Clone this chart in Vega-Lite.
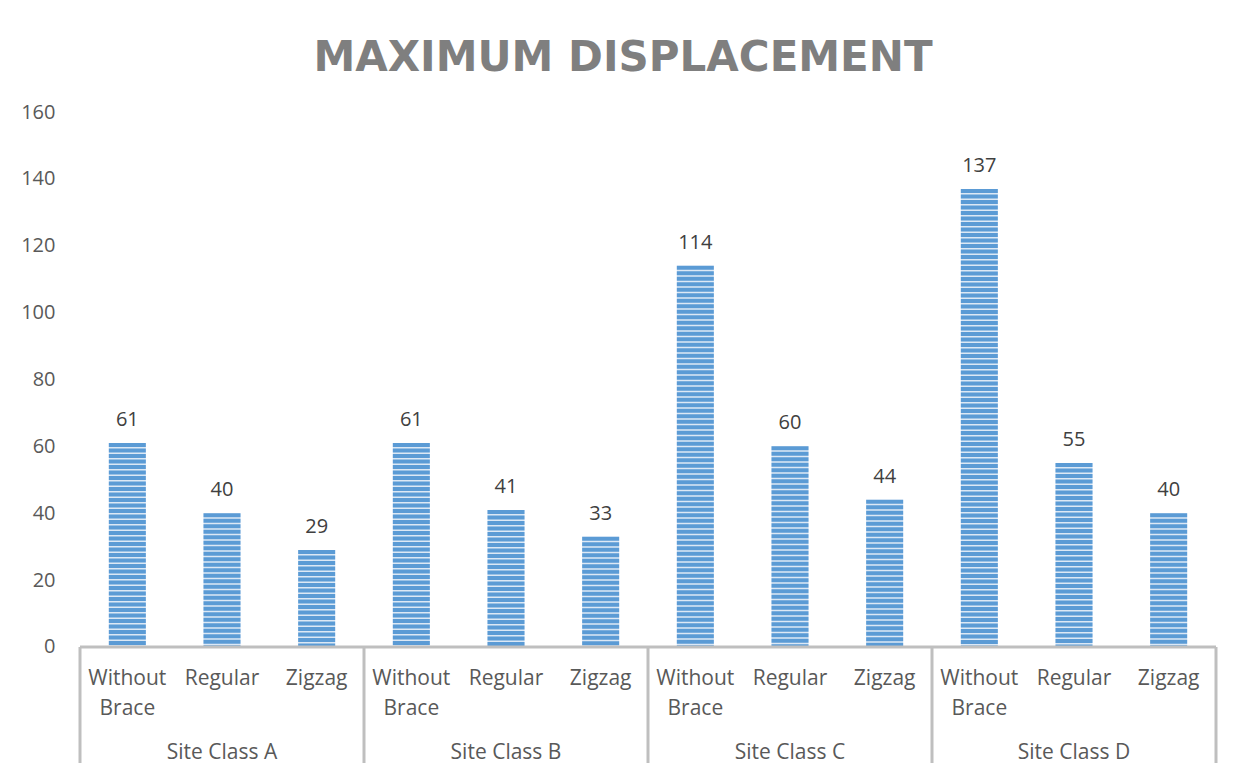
{
  "$schema": "https://vega.github.io/schema/vega-lite/v6.json",
  "autosize": "none",
  "width": 1136,
  "height": 652,
  "padding": {"left": 80, "top": 112, "right": 23, "bottom": 0},
  "background": "white",
  "config": {"view": {"stroke": null}},
  "title": {
    "text": "MAXIMUM DISPLACEMENT",
    "font": "DejaVu Sans",
    "fontSize": 42,
    "fontWeight": "bold",
    "color": "#7F7F7F",
    "anchor": "middle",
    "frame": "group",
    "baseline": "alphabetic",
    "offset": -11,
    "dx": -25
  },
  "datasets": {
    "bars": [
      {"key": "A|Without Brace", "label": ["Without", "Brace"], "value": 61},
      {"key": "A|Regular", "label": ["Regular"], "value": 40},
      {"key": "A|Zigzag", "label": ["Zigzag"], "value": 29},
      {"key": "B|Without Brace", "label": ["Without", "Brace"], "value": 61},
      {"key": "B|Regular", "label": ["Regular"], "value": 41},
      {"key": "B|Zigzag", "label": ["Zigzag"], "value": 33},
      {"key": "C|Without Brace", "label": ["Without", "Brace"], "value": 114},
      {"key": "C|Regular", "label": ["Regular"], "value": 60},
      {"key": "C|Zigzag", "label": ["Zigzag"], "value": 44},
      {"key": "D|Without Brace", "label": ["Without", "Brace"], "value": 137},
      {"key": "D|Regular", "label": ["Regular"], "value": 55},
      {"key": "D|Zigzag", "label": ["Zigzag"], "value": 40}
    ],
    "groups": [
      {"key": "A|Regular", "start": "A|Without Brace", "group": "Site Class A"},
      {"key": "B|Regular", "start": "B|Without Brace", "group": "Site Class B"},
      {"key": "C|Regular", "start": "C|Without Brace", "group": "Site Class C"},
      {"key": "D|Regular", "start": "D|Without Brace", "group": "Site Class D"}
    ],
    "ends": [
      {"key": "D|Zigzag"}
    ]
  },
  "encoding": {
    "x": {
      "field": "key",
      "type": "nominal",
      "axis": null,
      "scale": {
        "domain": ["A|Without Brace", "A|Regular", "A|Zigzag", "B|Without Brace", "B|Regular", "B|Zigzag", "C|Without Brace", "C|Regular", "C|Zigzag", "D|Without Brace", "D|Regular", "D|Zigzag"],
        "paddingInner": 0,
        "paddingOuter": 0
      }
    }
  },
  "layer": [
    {
      "data": {"name": "bars"},
      "mark": {"type": "bar", "width": 37, "color": "#DCE8F5"},
      "encoding": {
        "y": {
          "field": "value",
          "type": "quantitative",
          "scale": {"domain": [-35, 160], "nice": false, "zero": false},
          "axis": {
            "values": [0, 20, 40, 60, 80, 100, 120, 140, 160],
            "title": null,
            "domain": false,
            "ticks": false,
            "grid": false,
            "labelPadding": 25,
            "labelFont": "Open Sans",
            "labelFontSize": 20,
            "labelColor": "#595959"
          }
        },
        "y2": {"datum": 0}
      }
    },
    {
      "data": {"name": "bars"},
      "mark": {"type": "rule", "strokeWidth": 37, "color": "#5B9BD5", "strokeDash": [4, 1.5], "strokeCap": "butt"},
      "encoding": {
        "y": {"field": "value", "type": "quantitative"},
        "y2": {"datum": 0}
      }
    },
    {
      "data": {"name": "bars"},
      "mark": {"type": "text", "font": "Open Sans", "fontSize": 20, "color": "#404040", "baseline": "alphabetic", "dy": -17},
      "encoding": {
        "y": {"field": "value", "type": "quantitative"},
        "text": {"field": "value", "type": "quantitative"}
      }
    },
    {
      "data": {"name": "bars"},
      "mark": {"type": "text", "font": "Open Sans", "fontSize": 21, "color": "#595959", "baseline": "top", "lineHeight": 30},
      "encoding": {
        "y": {"datum": -6.3},
        "text": {"field": "label", "type": "nominal"}
      }
    },
    {
      "data": {"name": "groups"},
      "mark": {"type": "text", "font": "Open Sans", "fontSize": 21, "color": "#595959", "baseline": "alphabetic"},
      "encoding": {
        "y": {"datum": -33.6},
        "text": {"field": "group", "type": "nominal"}
      }
    },
    {
      "data": {"name": "groups"},
      "mark": {"type": "rule", "color": "#BFBFBF", "strokeWidth": 3},
      "encoding": {
        "x": {"field": "start", "type": "nominal", "bandPosition": 0},
        "y": {"datum": 0},
        "y2": {"datum": -35}
      }
    },
    {
      "data": {"name": "ends"},
      "mark": {"type": "rule", "color": "#BFBFBF", "strokeWidth": 3},
      "encoding": {
        "x": {"field": "key", "type": "nominal", "bandPosition": 1},
        "y": {"datum": 0},
        "y2": {"datum": -35}
      }
    },
    {
      "data": {"values": [{}]},
      "mark": {"type": "rule", "color": "#BFBFBF", "strokeWidth": 3},
      "encoding": {
        "x": null,
        "y": {"datum": 0}
      }
    }
  ]
}
